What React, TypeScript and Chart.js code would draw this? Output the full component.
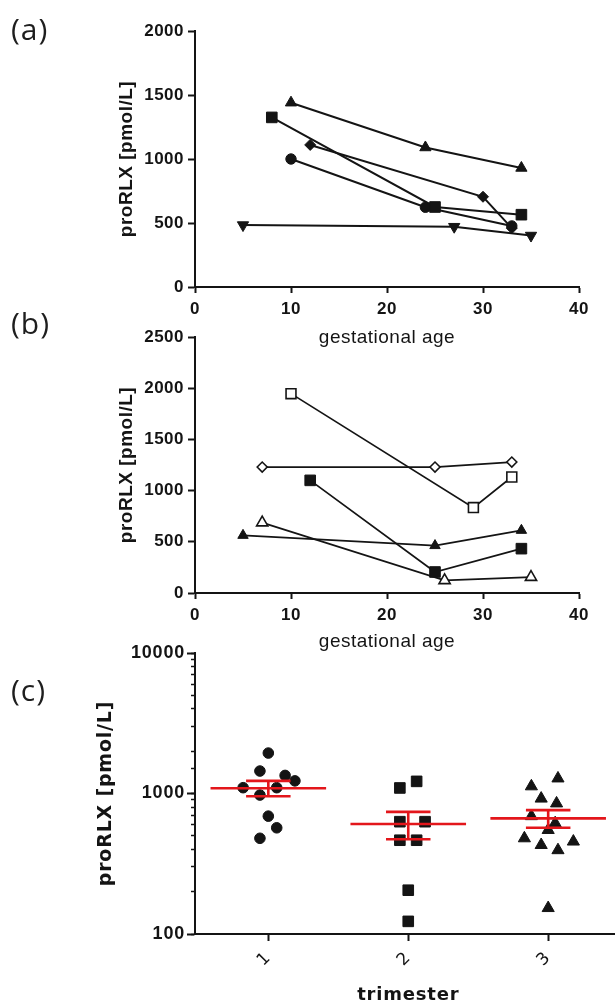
import React, { useEffect, useRef } from 'react';
import { Chart, registerables } from 'chart.js';

Chart.register(...registerables);

// ---------------- Panel (a) ----------------
const aXTicks = [0, 10, 20, 30, 40];
const aYTicks = [0, 500, 1000, 1500, 2000];
const aTriUpX = [10, 24, 34];
const aTriUpY = [1440, 1090, 930];
const aSquareX = [8, 25, 34];
const aSquareY = [1325, 625, 565];
const aDiamondX = [12, 30, 33];
const aDiamondY = [1110, 705, 460];
const aCircleX = [10, 24, 33];
const aCircleY = [1000, 623, 477];
const aTriDownX = [5, 27, 35];
const aTriDownY = [484, 471, 402];

// ---------------- Panel (b) ----------------
const bXTicks = [0, 10, 20, 30, 40];
const bYTicks = [0, 500, 1000, 1500, 2000, 2500];
const bOpenSquareX = [10, 29, 33];
const bOpenSquareY = [1947, 834, 1133];
const bOpenDiamondX = [7, 25, 33];
const bOpenDiamondY = [1230, 1230, 1279];
const bSquareX = [12, 25, 34];
const bSquareY = [1100, 205, 433];
const bTriX = [5, 25, 34];
const bTriY = [563, 463, 612];
const bOpenTriX = [7, 26, 35];
const bOpenTriY = [687, 123, 155];

// ---------------- Panel (c) ----------------
const cCategories = [1, 2, 3];
const cCategoryLabels = ['1', '2', '3'];
const cYTicks = [100, 1000, 10000];
const t1X = [1.0, 0.94, 1.12, 1.19, 0.82, 1.06, 0.94, 1.0, 1.06, 0.94];
const t1Y = [1940, 1445, 1345, 1230, 1100, 1100, 975, 690, 570, 480];
const t2X = [1.94, 2.06, 1.94, 2.12, 1.94, 2.06, 2.0, 2.0];
const t2Y = [1095, 1220, 630, 630, 465, 465, 205, 123];
const t3X = [2.88, 3.07, 2.95, 3.06, 2.88, 3.05, 3.0, 2.83, 2.95, 3.18, 3.07, 3.0];
const t3Y = [1125, 1280, 920, 850, 690, 615, 550, 480, 430, 455, 395, 153];
const cMeans = [1090, 606, 665];
const cSemHigh = [1229, 740, 761];
const cSemLow = [957, 472, 570];

// ---------------- styling ----------------
const SANS = "'Liberation Sans', Arial, Helvetica, sans-serif";
const DEJAVU = "'DejaVu Sans', Verdana, sans-serif";
const INK = '#141414';
const RED = '#e3161b';
const MEAN_HALF = 0.413;
const CAP_HALF = 0.159;

const pts = (xs: number[], ys: number[]) => xs.map((x, i) => ({ x, y: ys[i] }));

const spacingPlugin = (px: string) => ({
  id: 'letterSpacing',
  beforeDraw(chart: any) {
    chart.ctx.letterSpacing = px;
  },
});

function lineSeries(xs: number[], ys: number[], shape: string, r: number, open: boolean, lineWidth: number, rot = 0) {
  return {
    data: pts(xs, ys),
    showLine: true,
    borderColor: INK,
    borderWidth: lineWidth,
    pointStyle: shape,
    pointRadius: r,
    pointHoverRadius: r,
    pointRotation: rot,
    pointBackgroundColor: open ? '#ffffff' : INK,
    pointBorderColor: INK,
    pointBorderWidth: open ? 1.6 : 1,
  };
}

function gestationalConfig(datasets: any[], xTicks: number[], yTicks: number[], yMax: number, height: number, topPad: number, plotBottom: number): any {
  return {
    type: 'scatter',
    data: { datasets },
    options: {
      responsive: false,
      animation: false,
      events: [],
      layout: { padding: { left: 0, top: topPad, right: 36, bottom: 0 } },
      plugins: { legend: { display: false }, tooltip: { enabled: false } },
      scales: {
        x: {
          type: 'linear',
          min: 0,
          max: 40,
          afterBuildTicks: (s: any) => {
            s.ticks = xTicks.map((v) => ({ value: v }));
          },
          afterFit: (s: any) => {
            s.height = height - plotBottom;
          },
          grid: { display: true, drawOnChartArea: false, drawTicks: true, tickLength: 6, tickWidth: 2, color: INK, tickColor: INK },
          border: { display: true, color: INK, width: 2 },
          ticks: {
            autoSkip: false,
            maxRotation: 0,
            padding: 6,
            color: INK,
            font: { family: SANS, size: 17, weight: 'bold' },
            callback: (v: any) => String(v),
          },
          title: {
            display: true,
            text: 'gestational age',
            color: INK,
            font: { family: SANS, size: 19, weight: 'normal' },
            padding: { top: 0, bottom: 3 },
          },
        },
        y: {
          type: 'linear',
          min: 0,
          max: yMax,
          afterBuildTicks: (s: any) => {
            s.ticks = yTicks.map((v) => ({ value: v }));
          },
          afterFit: (s: any) => {
            s.width = 195;
          },
          grid: { display: true, drawOnChartArea: false, drawTicks: true, tickLength: 7, tickWidth: 2, color: INK, tickColor: INK },
          border: { display: true, color: INK, width: 2 },
          ticks: {
            autoSkip: false,
            padding: 4,
            color: INK,
            font: { family: SANS, size: 17, weight: 'bold' },
            callback: (v: any) => String(v),
          },
          title: {
            display: true,
            text: 'proRLX [pmol/L]',
            color: INK,
            font: { family: SANS, size: 19, weight: 'bold' },
            padding: { top: 115, bottom: 0 },
          },
        },
      },
    },
    plugins: [spacingPlugin('0.5px')],
  };
}

function panelAConfig() {
  const ds = [
    lineSeries(aTriUpX, aTriUpY, 'triangle', 6.5, false, 2),
    lineSeries(aSquareX, aSquareY, 'rect', 7.5, false, 2),
    lineSeries(aDiamondX, aDiamondY, 'rectRot', 5.5, false, 2),
    lineSeries(aCircleX, aCircleY, 'circle', 5.2, false, 2),
    lineSeries(aTriDownX, aTriDownY, 'triangle', 6.5, false, 2, 180),
  ];
  return gestationalConfig(ds, aXTicks, aYTicks, 2000, 352, 31, 287);
}

function panelBConfig() {
  const ds = [
    lineSeries(bOpenSquareX, bOpenSquareY, 'rect', 7, true, 1.7),
    lineSeries(bOpenDiamondX, bOpenDiamondY, 'rectRot', 5, true, 1.7),
    lineSeries(bSquareX, bSquareY, 'rect', 7.5, false, 1.7),
    lineSeries(bTriX, bTriY, 'triangle', 6, false, 1.7),
    lineSeries(bOpenTriX, bOpenTriY, 'triangle', 6.5, true, 1.7),
  ];
  return gestationalConfig(ds, bXTicks, bYTicks, 2500, 336, 17, 273);
}

function redSegment(a: { x: number; y: number }, b: { x: number; y: number }) {
  return {
    data: [a, b],
    showLine: true,
    borderColor: RED,
    borderWidth: 2.6,
    borderCapStyle: 'butt',
    pointRadius: 0,
    pointHoverRadius: 0,
  };
}

function panelCConfig(): any {
  const red: any[] = [];
  cCategories.forEach((c, i) => {
    red.push(redSegment({ x: c - MEAN_HALF, y: cMeans[i] }, { x: c + MEAN_HALF, y: cMeans[i] }));
    red.push(redSegment({ x: c - CAP_HALF, y: cSemHigh[i] }, { x: c + CAP_HALF, y: cSemHigh[i] }));
    red.push(redSegment({ x: c - CAP_HALF, y: cSemLow[i] }, { x: c + CAP_HALF, y: cSemLow[i] }));
    red.push(redSegment({ x: c, y: cSemLow[i] }, { x: c, y: cSemHigh[i] }));
  });
  const marker = (xs: number[], ys: number[], shape: string, r: number) => ({
    data: pts(xs, ys),
    showLine: false,
    pointStyle: shape,
    pointRadius: r,
    pointHoverRadius: r,
    pointBackgroundColor: INK,
    pointBorderColor: INK,
    pointBorderWidth: 1,
  });
  const datasets = [
    ...red,
    marker(t1X, t1Y, 'circle', 5.3),
    marker(t2X, t2Y, 'rect', 7.5),
    marker(t3X, t3Y, 'triangle', 7),
  ];
  return {
    type: 'scatter',
    data: { datasets },
    options: {
      responsive: false,
      animation: false,
      events: [],
      layout: { padding: { left: 0, top: 23, right: 3, bottom: 0 } },
      plugins: { legend: { display: false }, tooltip: { enabled: false } },
      scales: {
        x: {
          type: 'linear',
          min: 0.476,
          max: 3.524,
          afterBuildTicks: (s: any) => {
            s.ticks = cCategories.map((v) => ({ value: v }));
          },
          afterFit: (s: any) => {
            s.height = 74;
          },
          grid: { display: true, drawOnChartArea: false, drawTicks: true, tickLength: 7, tickWidth: 2, color: INK, tickColor: INK },
          border: { display: true, color: INK, width: 2 },
          ticks: {
            autoSkip: false,
            minRotation: 45,
            maxRotation: 45,
            padding: 7,
            color: INK,
            font: { family: DEJAVU, size: 17, weight: 'normal' },
            callback: (v: any) => cCategoryLabels[cCategories.indexOf(Number(v))] ?? '',
          },
          title: {
            display: true,
            text: 'trimester',
            color: INK,
            font: { family: DEJAVU, size: 18, weight: 'bold' },
            padding: { top: 0, bottom: 2 },
          },
        },
        y: {
          type: 'logarithmic',
          position: 'left',
          weight: 1,
          min: 100,
          max: 10000,
          afterBuildTicks: (s: any) => {
            s.ticks = cYTicks.map((v) => ({ value: v }));
          },
          afterFit: (s: any) => {
            s.width = 195;
          },
          grid: { display: true, drawOnChartArea: false, drawTicks: true, tickLength: 8, tickWidth: 2, color: INK, tickColor: INK },
          border: { display: true, color: INK, width: 2 },
          ticks: {
            autoSkip: false,
            padding: 2,
            color: INK,
            font: { family: SANS, size: 18, weight: 'bold' },
            callback: (v: any) => String(v),
          },
          title: {
            display: true,
            text: 'proRLX [pmol/L]',
            color: INK,
            font: { family: DEJAVU, size: 19, weight: 'bold' },
            padding: { top: 95, bottom: 0 },
          },
        },
        yMinor: {
          type: 'logarithmic',
          position: 'left',
          weight: 0,
          min: 100,
          max: 10000,
          afterFit: (s: any) => {
            s.width = 0;
          },
          grid: { display: true, drawOnChartArea: false, drawTicks: true, tickLength: 4, tickWidth: 1.5, color: INK, tickColor: INK },
          border: { display: false },
          ticks: { display: false, autoSkip: false },
        },
      },
    },
    plugins: [spacingPlugin('0.8px')],
  };
}

const panelLabel = (top: number): React.CSSProperties => ({
  position: 'absolute',
  left: 11,
  top,
  fontFamily: "'Open Sans', 'Noto Sans', sans-serif",
  fontSize: 30,
  lineHeight: '30px',
  letterSpacing: '1px',
  color: '#1e1e1e',
});

export default function App() {
  const aRef = useRef<HTMLCanvasElement>(null);
  const bRef = useRef<HTMLCanvasElement>(null);
  const cRef = useRef<HTMLCanvasElement>(null);

  useEffect(() => {
    const charts = [
      new Chart(aRef.current as HTMLCanvasElement, panelAConfig() as any),
      new Chart(bRef.current as HTMLCanvasElement, panelBConfig() as any),
      new Chart(cRef.current as HTMLCanvasElement, panelCConfig() as any),
    ];
    return () => charts.forEach((c) => c.destroy());
  }, []);

  return (
    <div style={{ position: 'absolute', left: 0, top: 0, width: 615, height: 1008, overflow: 'hidden', background: '#ffffff' }}>
      <canvas ref={aRef} width={615} height={352} style={{ position: 'absolute', left: 0, top: 0, width: 615, height: 352 }} />
      <canvas ref={bRef} width={615} height={336} style={{ position: 'absolute', left: 0, top: 320, width: 615, height: 336 }} />
      <canvas ref={cRef} width={630} height={378} style={{ position: 'absolute', left: 0, top: 630, width: 630, height: 378 }} />
      <div style={panelLabel(14)}>(a)</div>
      <div style={panelLabel(308)}>(b)</div>
      <div style={panelLabel(675)}>(c)</div>
    </div>
  );
}
